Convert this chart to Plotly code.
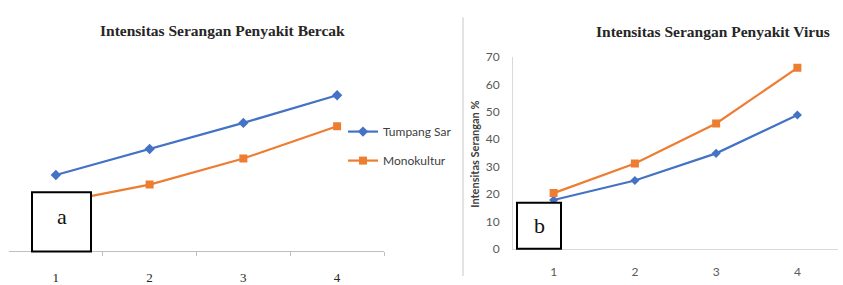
import plotly.graph_objects as go

W, H = 843, 285

periods = [1, 2, 3, 4]
period_labels = ["1", "2", "3", "4"]

# Panel a: Intensitas Serangan Penyakit Bercak
bercak_tumpang_sari = [27.6, 37.1, 46.6, 56.7]
bercak_monokultur = [17.4, 24.1, 33.6, 45.4]

# Panel b: Intensitas Serangan Penyakit Virus
virus_tumpang_sari = [17.8, 24.9, 34.8, 48.8]
virus_monokultur = [20.3, 31.1, 45.7, 66.0]

y_ticks = [0, 10, 20, 30, 40, 50, 60, 70]

name_ts = "Tumpang Sar"
name_mk = "Monokultur"
title_a = "Intensitas Serangan Penyakit Bercak"
title_b = "Intensitas Serangan Penyakit Virus"
ytitle_b = "Intensitas Serangan %"

BLUE = "#4472C4"
ORANGE = "#ED7D31"


def px(x):
    return x / W


def py(y):
    return 1 - y / H


fig = go.Figure()

# panel a
fig.add_trace(go.Scatter(x=periods, y=bercak_tumpang_sari, name=name_ts, mode="lines+markers",
                         line=dict(color=BLUE, width=2.2), marker=dict(symbol="diamond", size=8, color=BLUE),
                         xaxis="x", yaxis="y", legendgroup="ts"))
fig.add_trace(go.Scatter(x=periods, y=bercak_monokultur, name=name_mk, mode="lines+markers",
                         line=dict(color=ORANGE, width=2.2), marker=dict(symbol="square", size=8, color=ORANGE),
                         xaxis="x", yaxis="y", legendgroup="mk"))
# panel b
fig.add_trace(go.Scatter(x=periods, y=virus_tumpang_sari, name=name_ts, mode="lines+markers",
                         line=dict(color=BLUE, width=2.2), marker=dict(symbol="diamond", size=7, color=BLUE),
                         xaxis="x2", yaxis="y2", showlegend=False))
fig.add_trace(go.Scatter(x=periods, y=virus_monokultur, name=name_mk, mode="lines+markers",
                         line=dict(color=ORANGE, width=2.2), marker=dict(symbol="square", size=8, color=ORANGE),
                         xaxis="x2", yaxis="y2", showlegend=False))

fig.update_layout(
    width=W, height=H,
    margin=dict(l=0, r=0, t=0, b=0),
    paper_bgcolor="white", plot_bgcolor="white",
    showlegend=True,
    legend=dict(x=px(343), y=py(116), xanchor="left", yanchor="top",
                font=dict(family="Lato", size=12, color="#404040"),
                bgcolor="rgba(0,0,0,0)", tracegroupgap=10, itemwidth=30),
    xaxis=dict(domain=[px(9), px(384)], range=[0.5, 4.5], tickmode="array",
               tickvals=periods, ticktext=period_labels,
               ticks="outside", ticklen=15, tickcolor="rgba(0,0,0,0)",
               tickfont=dict(family="Liberation Serif", size=13, color="#262626"),
               showline=True, linecolor="#bfbfbf", linewidth=1, showgrid=False, zeroline=False,
               minor=dict(tickmode="array", tickvals=[1.5, 2.5, 3.5, 4.5], ticks="outside",
                          ticklen=4, tickcolor="#bfbfbf", showgrid=False),
               anchor="y", fixedrange=True),
    yaxis=dict(domain=[py(258), py(54)], range=[0, 70], visible=False, anchor="x"),
    xaxis2=dict(domain=[px(513), px(838)], range=[0.5, 4.5], tickmode="array",
                tickvals=periods, ticktext=period_labels,
                ticks="outside", ticklen=12, tickcolor="rgba(0,0,0,0)",
                tickfont=dict(family="Lato", size=12, color="#595959"),
                showline=True, linecolor="#d9d9d9", linewidth=1, showgrid=False, zeroline=False,
                anchor="y2"),
    yaxis2=dict(domain=[py(256), py(52)], range=[0, 70], tickmode="array", tickvals=y_ticks,
                ticks="outside", ticklen=10, tickcolor="rgba(0,0,0,0)",
                tickfont=dict(family="Lato", size=12, color="#595959"),
                showline=True, linecolor="#d9d9d9", linewidth=1, showgrid=False, zeroline=False,
                anchor="x2"),
)

shapes = [
    dict(type="line", xref="paper", yref="paper", x0=px(463), x1=px(463), y0=py(10), y1=py(285),
         line=dict(color="#c8c8c8", width=1)),
    dict(type="rect", xref="paper", yref="paper", x0=px(32), x1=px(91), y0=py(259), y1=py(196),
         fillcolor="white", line=dict(color="black", width=2)),
    dict(type="rect", xref="paper", yref="paper", x0=px(517), x1=px(561), y0=py(256), y1=py(207),
         fillcolor="white", line=dict(color="black", width=2)),
]
fig.update_layout(shapes=shapes)

annotations = [
    dict(text="<b>" + title_a + "</b>", x=px(223), y=py(24)),
    dict(text="<b>" + title_b + "</b>", x=px(713), y=py(25)),
    dict(text="<b>" + ytitle_b + "</b>", x=px(475), y=py(155), textangle=-90),
    dict(text="a", x=px(61.5), y=py(222)),
    dict(text="b", x=px(539), y=py(231)),
]
fonts = [
    dict(family="Liberation Serif", size=15.5, color="#262626"),
    dict(family="Liberation Serif", size=15.5, color="#262626"),
    dict(family="Lato", size=11, color="#404040"),
    dict(family="Liberation Serif", size=22, color="#111111"),
    dict(family="Liberation Serif", size=22, color="#111111"),
]
for a, f in zip(annotations, fonts):
    a.update(xref="paper", yref="paper", xanchor="center", yanchor="middle", showarrow=False, font=f)
fig.update_layout(annotations=annotations)

post = (
    "var s=document.createElement('style');"
    "s.textContent='html,body{margin:0!important;padding:0!important;overflow:hidden;height:285px;}';"
    "document.head.appendChild(s);"
)
fig.write_html("out.html", config={"displayModeBar": False}, post_script=post)
